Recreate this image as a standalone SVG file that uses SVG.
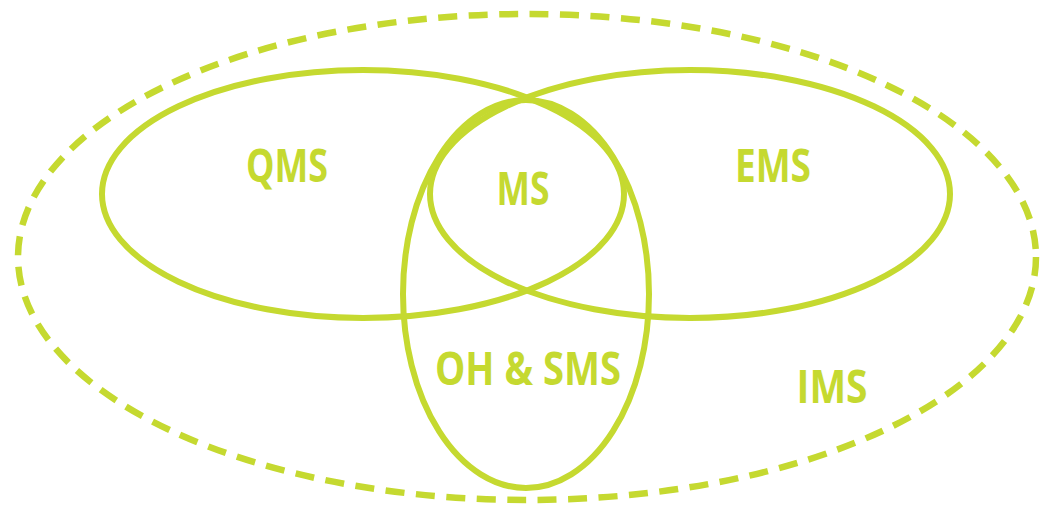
<svg xmlns="http://www.w3.org/2000/svg" width="1042" height="510" viewBox="0 0 1042 510">
<style>
.set{fill:none;stroke:#c5d930;stroke-width:6}
.outer{fill:none;stroke:#c5d930;stroke-width:6.5;stroke-dasharray:19 11.5}
.lbl{font-family:"Open Sans","Liberation Sans",sans-serif;font-weight:700;font-size:46px;fill:#c5d930;text-anchor:middle}
</style>
<rect width="1042" height="510" fill="#ffffff"/>
<g id="ims">
<ellipse class="outer" cx="527" cy="257" rx="509" ry="243"/>
<text class="lbl" x="832" y="403" textLength="71" lengthAdjust="spacingAndGlyphs">IMS</text>
</g>
<g id="qms">
<ellipse class="set" cx="363" cy="194" rx="261" ry="124"/>
<text class="lbl" x="287" y="182" textLength="82" lengthAdjust="spacingAndGlyphs">QMS</text>
</g>
<g id="ems">
<ellipse class="set" cx="690" cy="194" rx="260" ry="124"/>
<text class="lbl" x="773" y="182" textLength="76" lengthAdjust="spacingAndGlyphs">EMS</text>
</g>
<g id="ohsms">
<ellipse class="set" cx="526" cy="294" rx="123" ry="194"/>
<text class="lbl" x="528" y="385" textLength="186" lengthAdjust="spacingAndGlyphs">OH &amp; SMS</text>
</g>
<g id="ms">
<text class="lbl" x="523" y="205" textLength="53" lengthAdjust="spacingAndGlyphs">MS</text>
</g>
<g id="connectors"></g>
</svg>
